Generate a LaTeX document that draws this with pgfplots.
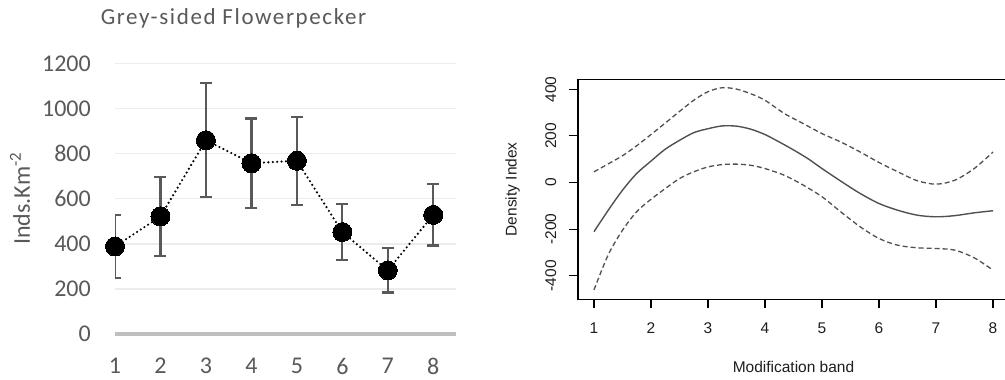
\documentclass[border=0pt]{standalone}
\usepackage{pgfplots}
\pgfplotsset{compat=1.18}
\usepackage{pgfplotstable}
\usepackage{fontspec}
\setmainfont{Carlito}
\newfontfamily\arialf{Liberation Sans}
\newfontfamily\titlef[LetterSpace=7]{Carlito}
\definecolor{xlgray}{RGB}{89,89,89}
\definecolor{gridc}{RGB}{236,236,236}
\definecolor{basec}{RGB}{191,191,191}
\definecolor{rline}{RGB}{80,80,80}
\definecolor{rtext}{RGB}{30,30,30}

\pgfplotstableread{
x y e
1 388 139
2 521 176
3 859 253
4 757 198
5 768 195
6 452 123
7 282 98
8 528 136
}\flowerdata

\pgfplotstableread{
x y
1 -211
1.25 -119
1.5 -33
1.75 39
2 92
2.25 143
2.5 181
2.75 214
3 231
3.25 243
3.5 242
3.75 229
4 206
4.25 174
4.5 140
4.75 103
5 60
5.33 6
5.67 -47
6 -90
6.33 -119
6.67 -140
7 -147
7.33 -142
7.67 -130
8 -121
}\fitdata

\pgfplotstableread{
x y
1 46
1.25 80
1.5 115
1.75 158
2 206
2.25 255
2.5 305
2.75 353
3 390
3.25 407
3.5 401
3.75 381
4 353
4.34 296
4.67 253
5 210
5.33 174
5.67 131
6 86
6.33 46
6.67 8
7 -7
7.33 10
7.67 60
8 131
}\upperdata

\pgfplotstableread{
x y
1 -461
1.25 -310
1.5 -205
1.75 -125
2 -72
2.25 -26
2.5 17
2.75 46
3 67
3.25 77
3.5 79
3.75 74
4 60
4.34 31
4.67 -11
5 -61
5.33 -126
5.67 -190
6 -240
6.33 -269
6.67 -280
7 -283
7.33 -290
7.67 -323
8 -376
}\lowerdata

\begin{document}
\begin{tikzpicture}
\path[use as bounding box] (0pt,0pt) rectangle (1005pt,380pt);
\clip (0pt,0pt) rectangle (1005pt,380pt);

% ---------- left chart: grid, baseline, error bars ----------
\begin{axis}[at={(115pt,46pt)}, anchor=south west, scale only axis,
  width=341pt, height=270.7pt,
  xmin=1, xmax=8.5, ymin=0, ymax=1200,
  axis line style={draw=none},
  tick style={draw=none}, major tick length=0pt,
  xtick={1,2,3,4,5,6,7,8}, xticklabels={1,2,3,4,5,6,7,8},
  ytick={200,400,600,800,1000,1200},
  yticklabels={200,400,600,800,1000,1200},
  extra y ticks={0}, extra y tick labels={0},
  extra y tick style={ymajorgrids=true, major grid style={basec, line width=3.5pt}},
  ymajorgrids, major grid style={gridc, line width=1.5pt},
  tick label style={font=\fontsize{24}{28}\selectfont, text=xlgray, inner sep=0pt},
  yticklabel style={anchor=east, xshift=-24pt},
  xticklabel style={anchor=north, yshift=-24pt},
  ylabel={Inds.Km\textsuperscript{-2}},
  every axis y label/.style={at={(axis description cs:-0.2786,0.5)}, rotate=90, anchor=center,
    font=\fontsize{24}{28}\selectfont, text=xlgray},
  clip=true]
\addplot[only marks, mark=none,
  error bars/.cd, y dir=both, y explicit,
  error bar style={xlgray, line width=2.2pt},
  error mark options={xlgray, line width=2.2pt, mark size=6pt, rotate=90}]
  table[x=x, y=y, y error=e] {\flowerdata};
\end{axis}

% ---------- left chart: line and markers ----------
\begin{axis}[at={(115pt,46pt)}, anchor=south west, scale only axis,
  width=341pt, height=270.7pt,
  xmin=1, xmax=8.5, ymin=0, ymax=1200,
  hide axis, clip=false]
\addplot[black, line width=2.4pt, line cap=round, dash pattern=on 0pt off 4.4pt,
  mark=*, mark size=9.5pt, mark options={solid, fill=black, draw=black, line width=0pt}]
  table[x=x, y=y] {\flowerdata};
\end{axis}

\node[anchor=base, font=\titlef\fontsize{23}{27}\selectfont, text=xlgray, inner sep=0pt]
  at (233.5pt,355pt) {Grey-sided Flowerpecker};

% ---------- right chart ----------
\begin{axis}[at={(578pt,80.7pt)}, anchor=south west, scale only axis,
  width=431pt, height=220pt,
  xmin=0.72, xmax=8.28, ymin=-501, ymax=443,
  axis line style={black, line width=1.1pt},
  xtick={1,2,3,4,5,6,7,8}, xticklabels={1,2,3,4,5,6,7,8},
  ytick={-400,-200,0,200,400}, yticklabels={-400,-200,0,200,400},
  xtick pos=left, ytick pos=left, tick align=outside, major tick length=9pt,
  tick style={black, line width=1.1pt},
  tick label style={font=\arialf\fontsize{15.5}{18}\selectfont, text=rtext, inner sep=0pt},
  xticklabel style={anchor=center, yshift=-20pt},
  yticklabel style={anchor=center, rotate=90, yshift=18.3pt},
  xlabel={Modification band}, ylabel={Density Index},
  every axis x label/.style={at={(axis description cs:0.5,-0.3077)}, anchor=center,
    font=\arialf\fontsize{15.5}{18}\selectfont, text=rtext},
  every axis y label/.style={at={(axis description cs:-0.1515,0.5)}, rotate=90, anchor=center,
    font=\arialf\fontsize{15.5}{18}\selectfont, text=rtext},
  clip=true]
\addplot[rline, line width=1.4pt, smooth] table[x=x, y=y] {\fitdata};
\addplot[rline, line width=1.3pt, smooth, dash pattern=on 5pt off 3pt] table[x=x, y=y] {\upperdata};
\addplot[rline, line width=1.3pt, smooth, dash pattern=on 5pt off 3pt] table[x=x, y=y] {\lowerdata};
\end{axis}
\end{tikzpicture}
\end{document}
